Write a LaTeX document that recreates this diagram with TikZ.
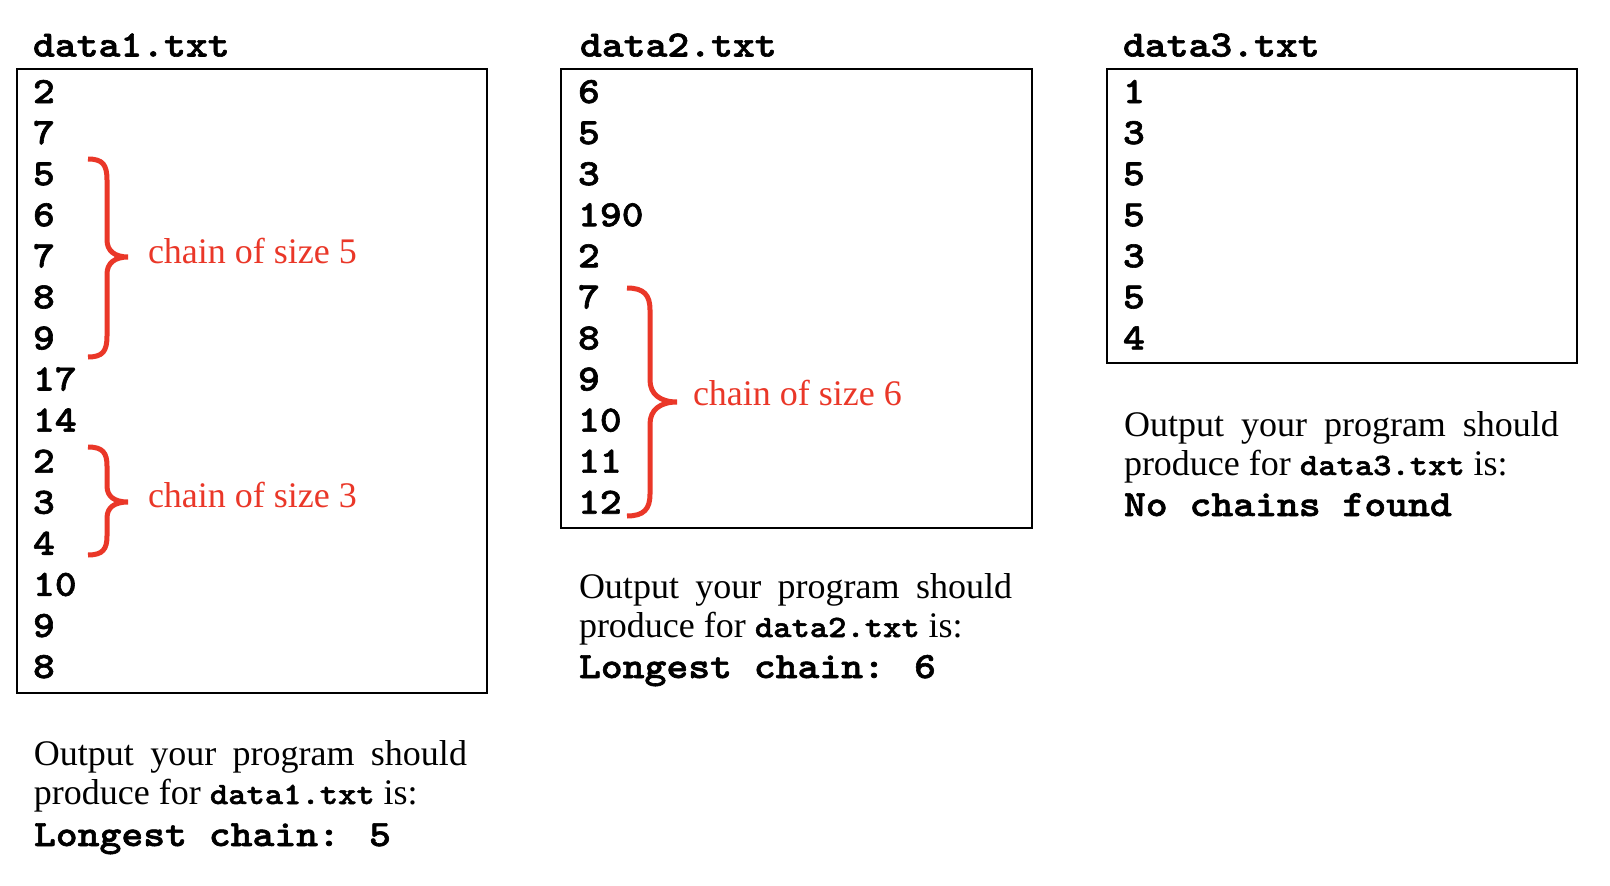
\documentclass[tikz,border=0pt]{standalone}
\usepackage{fontspec}
\setmainfont{Liberation Serif}
\newfontfamily\cfont{lmmonolt10-bold.otf}[FakeStretch=1.125,FakeBold=1.6]
\definecolor{bred}{RGB}{234,55,40}
\newcommand\icode[1]{{\cfont\fontsize{31}{39}\selectfont #1}}
\tikzset{
  lbl/.style={anchor=base west, inner sep=0pt, outer sep=0pt},
  num/.style={lbl, font=\cfont\fontsize{37}{41}\selectfont},
  txt/.style={lbl, font=\fontsize{36}{39}\selectfont},
  redlbl/.style={txt, text=bred},
  filebox/.style={draw=black, line width=2pt},
  bracepath/.style={draw=bred, line width=5pt},
}
\begin{document}
\begin{tikzpicture}[x=1pt,y=-1pt]
\useasboundingbox[fill=white] (0,0) rectangle (1610,886);

% ---------- data1 ----------
\node[num] (t1) at (33,56.5) {data1.txt};
\draw[filebox] (17,69) rectangle (487,693);
\foreach \v [count=\i from 0] in {2,7,5,6,7,8,9,17,14,2,3,4,10,9,8}
  \node[num] (a\i) at (33,103+41.07*\i) {\v};
\draw[bracepath] (88,159) .. controls (103,159) and (107,165) .. (107,180)
  -- (107,240) .. controls (107,251) and (115,257) .. (128,257)
  .. controls (115,257) and (107,263) .. (107,274)
  -- (107,336) .. controls (107,351) and (103,357) .. (88,357);
\node[redlbl] (c1) at (148,263) {chain of size 5};
\draw[bracepath] (88,447) .. controls (103,447) and (107,453) .. (107,466)
  -- (107,486) .. controls (107,497) and (115,502) .. (128,502)
  .. controls (115,502) and (107,507) .. (107,518)
  -- (107,536) .. controls (107,549) and (103,555) .. (88,555);
\node[redlbl] (c2) at (148,507) {chain of size 3};
\node[txt] (o1a) at (34,765) {\makebox[433pt][s]{Output your program should}};
\node[txt] (o1b) at (34,804) {produce for \icode{data1.txt} is:};
\node[num] (o1c) at (34,846) {Longest chain: 5};

% ---------- data2 ----------
\node[num] (t2) at (580,56.5) {data2.txt};
\draw[filebox] (561,69) rectangle (1032,528);
\foreach \v [count=\i from 0] in {6,5,3,190,2,7,8,9,10,11,12}
  \node[num] (b\i) at (578,103+41.07*\i) {\v};
\draw[bracepath] (627,288) .. controls (644,288) and (650,295) .. (650,310)
  -- (650,380) .. controls (650,394) and (660,402) .. (677,402)
  .. controls (660,402) and (650,410) .. (650,424)
  -- (650,494) .. controls (650,509) and (644,516) .. (627,516);
\node[redlbl] (c3) at (693,405) {chain of size 6};
\node[txt] (o2a) at (579,598) {\makebox[433pt][s]{Output your program should}};
\node[txt] (o2b) at (579,637) {produce for \icode{data2.txt} is:};
\node[num] (o2c) at (579,678) {Longest chain: 6};

% ---------- data3 ----------
\node[num] (t3) at (1123,56.5) {data3.txt};
\draw[filebox] (1107,69) rectangle (1577,363);
\foreach \v [count=\i from 0] in {1,3,5,5,3,5,4}
  \node[num] (d\i) at (1123,103+41.07*\i) {\v};
\node[txt] (o3a) at (1124,436) {\makebox[435pt][s]{Output your program should}};
\node[txt] (o3b) at (1124,475) {produce for \icode{data3.txt} is:};
\node[num] (o3c) at (1124,516) {No chains found};
\end{tikzpicture}
\end{document}
